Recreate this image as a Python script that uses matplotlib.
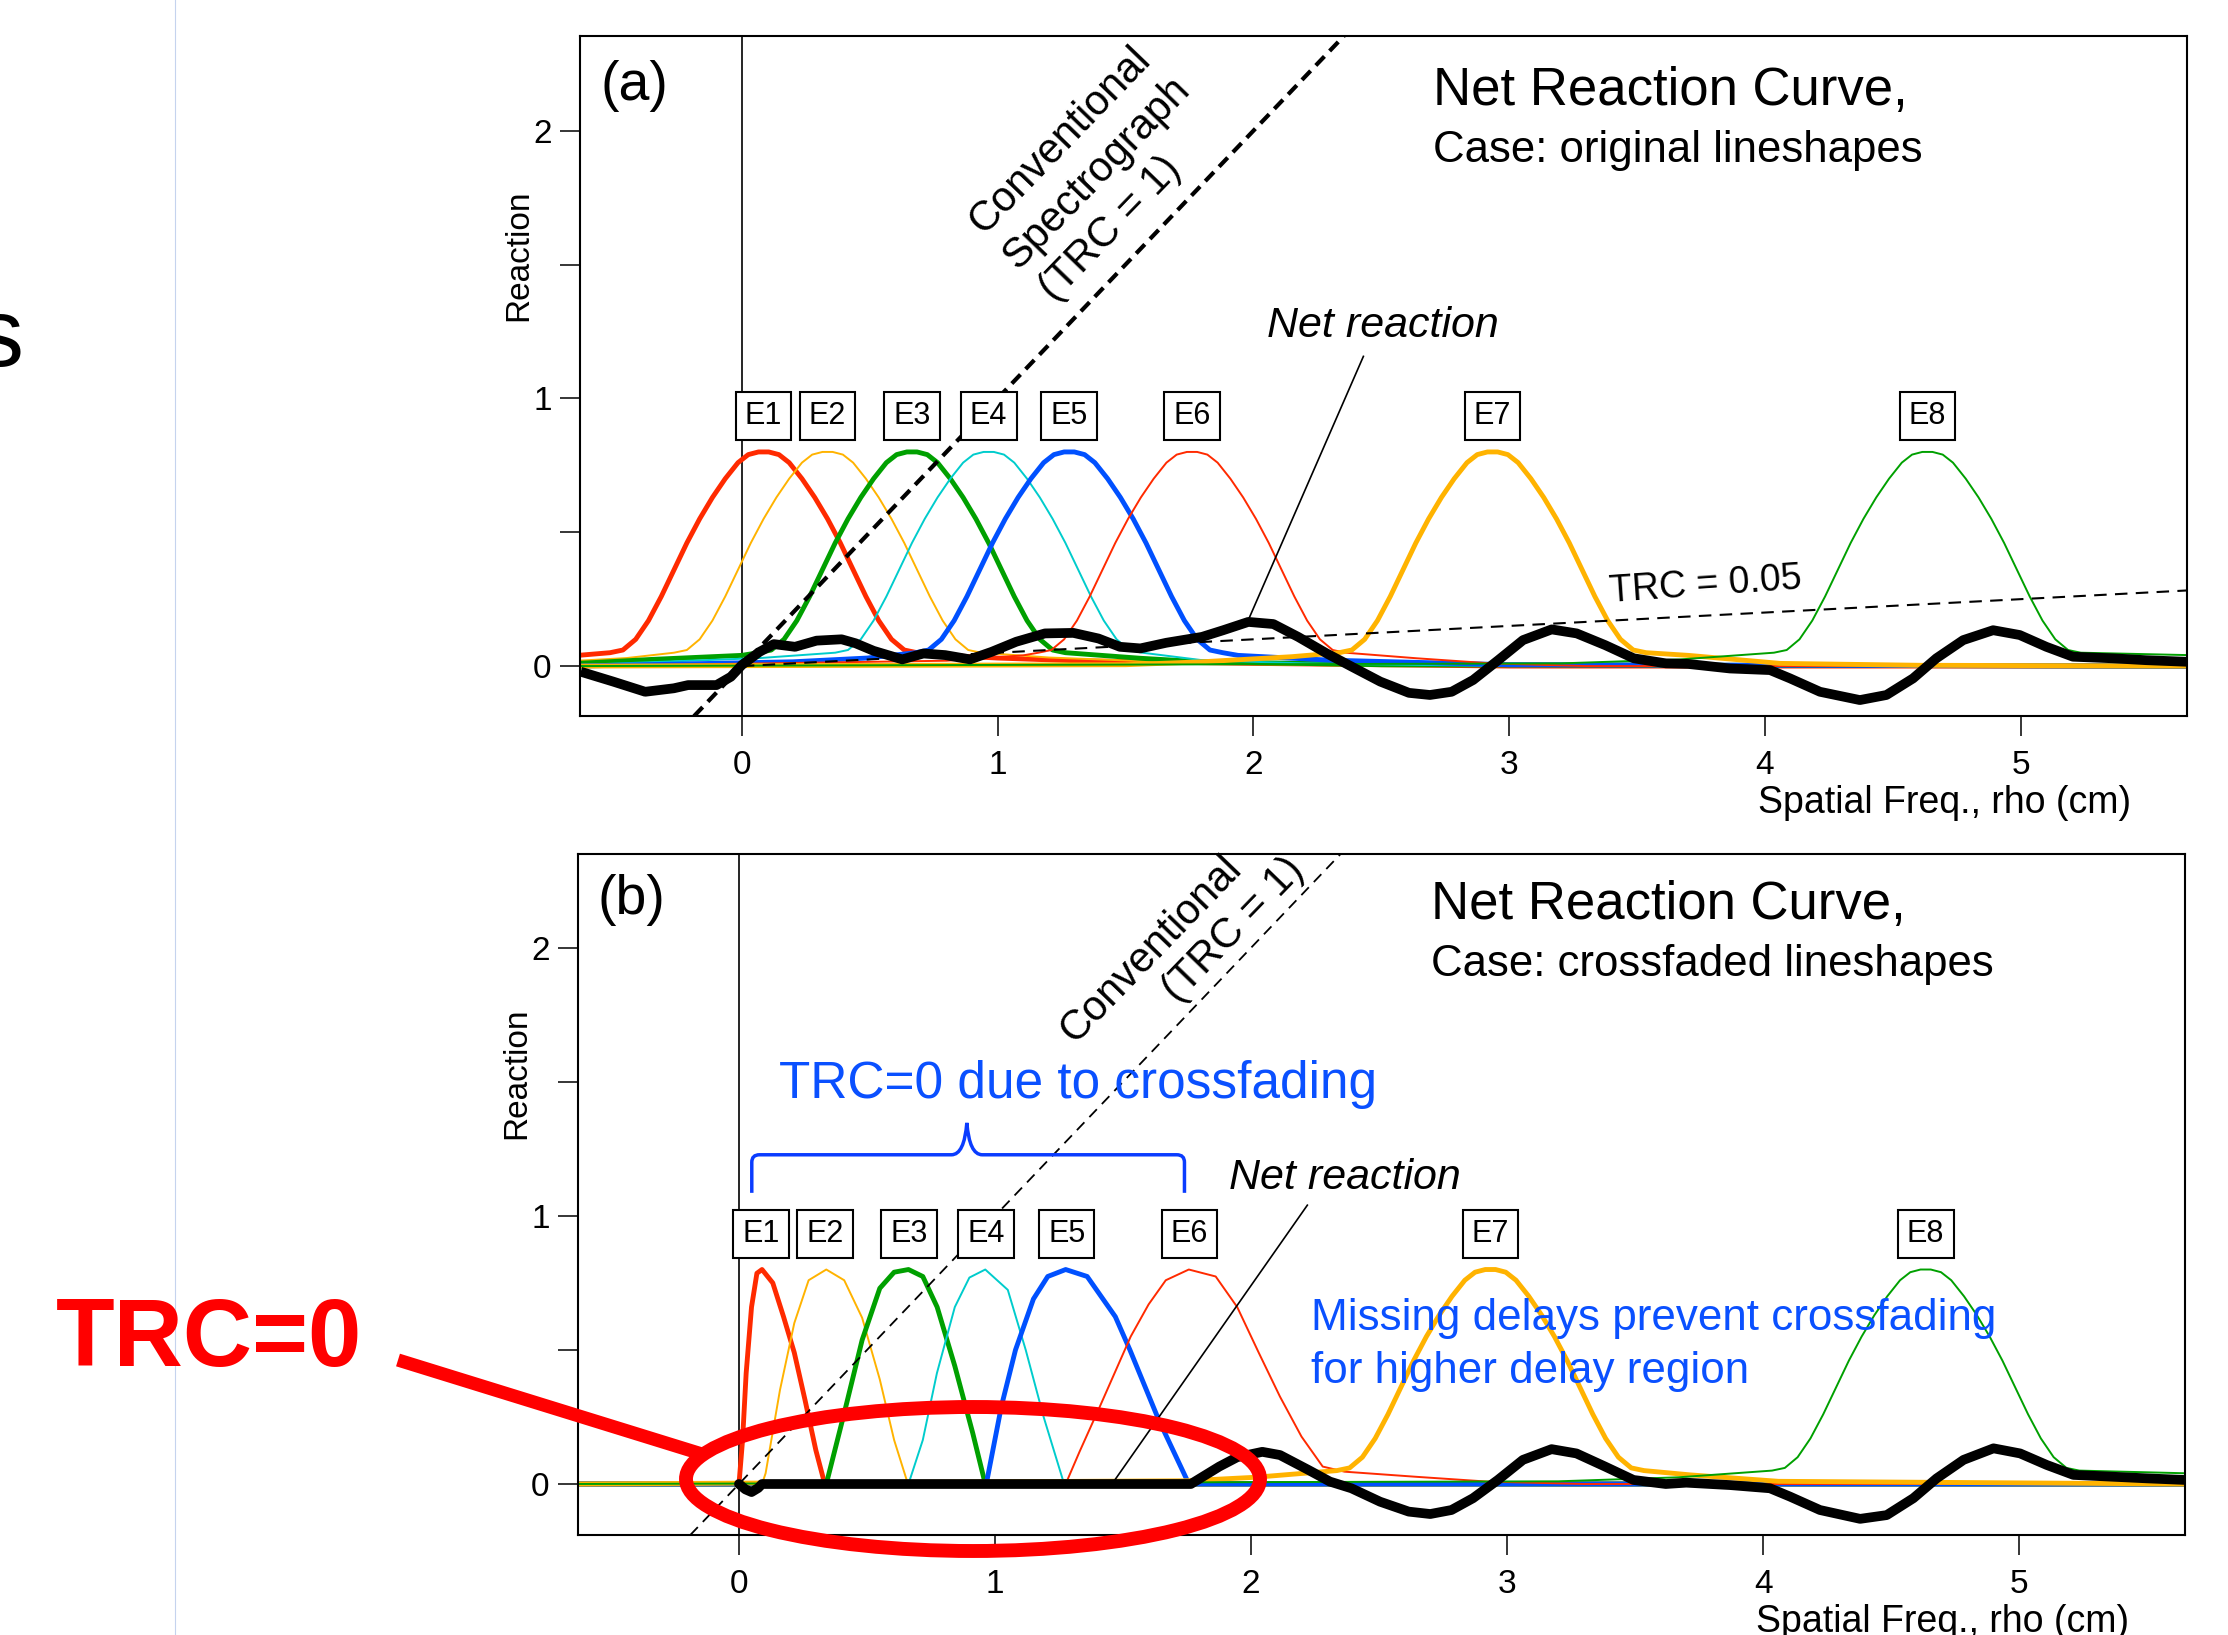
import matplotlib
matplotlib.use("Agg")
import matplotlib.pyplot as plt
from matplotlib.patches import Ellipse, PathPatch
from matplotlib.path import Path

plt.rcParams['font.family'] = ['Liberation Sans', 'DejaVu Sans']

# ---- data ----
labels = ['E1', 'E2', 'E3', 'E4', 'E5', 'E6', 'E7', 'E8']
peak_rho = [0.085, 0.335, 0.665, 0.965, 1.28, 1.76, 2.935, 4.635]
colors = ['#ff2a00', '#ffb300', '#00a000', '#00cccc', '#0050ff',
          '#ff2a00', '#ffb300', '#00a000']
widths = [3.5, 1.4, 3.5, 1.4, 3.5, 1.4, 3.5, 1.4]

# shared lineshape of the original components (offset from peak, reaction)
bump_dx = [-0.60, -0.55, -0.50, -0.45, -0.40, -0.35, -0.30, -0.25, -0.20, -0.15,
           -0.10, -0.06, -0.02, 0.02, 0.06, 0.10, 0.15, 0.20, 0.25, 0.30,
           0.35, 0.40, 0.45, 0.50, 0.55, 0.60]
bump_y = [0.05, 0.06, 0.10, 0.17, 0.26, 0.36, 0.46, 0.55, 0.63, 0.70,
          0.76, 0.79, 0.80, 0.80, 0.79, 0.76, 0.70, 0.63, 0.55, 0.46,
          0.36, 0.26, 0.17, 0.10, 0.06, 0.05]

# small tails left / right of each lineshape, panel (a)
tails_left_a = [
    [(-0.64, 0.04)],
    [(-0.64, 0.02), (-0.45, 0.03)],
    [(-0.64, 0.01), (-0.35, 0.025), (0.0, 0.04)],
    [(-0.64, 0.004), (0.07, 0.03)],
    [(-0.64, 0.0), (0.2, 0.016), (0.49, 0.03)],
    [(-0.64, 0.0), (0.8, 0.02), (1.1, 0.04)],
    [(-0.64, 0.0), (1.5, 0.005), (1.8, 0.016), (2.15, 0.035)],
    [(-0.64, 0.0), (3.2, 0.01), (3.67, 0.025)],
]
tails_right_a = [
    [(0.8, 0.04), (1.0, 0.03), (1.3, 0.02), (2.0, 0.01), (3.0, 0.0), (5.7, 0.0)],
    [(1.2, 0.032), (1.8, 0.01), (2.5, 0.0), (5.7, 0.0)],
    [(1.56, 0.029), (1.8, 0.016), (2.5, 0.005), (5.7, 0.0)],
    [(1.8, 0.022), (2.2, 0.01), (3.0, 0.0), (5.7, 0.0)],
    [(1.94, 0.04), (2.3, 0.022), (3.0, 0.005), (5.7, 0.0)],
    [(2.64, 0.029), (2.93, 0.01), (3.3, 0.0), (5.7, 0.0)],
    [(3.7, 0.04), (4.06, 0.01), (4.6, 0.003), (5.7, 0.0)],
    [(5.7, 0.04)],
]

net_a_x = [-0.63, -0.503, -0.378, -0.266, -0.21, -0.099, -0.043, 0.0, 0.069, 0.125,
           0.208, 0.292, 0.39, 0.445, 0.515, 0.627, 0.71, 0.795, 0.892, 0.976,
           1.073, 1.185, 1.296, 1.394, 1.478, 1.558, 1.659, 1.799, 1.882, 1.98,
           2.078, 2.175, 2.287, 2.384, 2.496, 2.608, 2.69, 2.775, 2.859, 2.957,
           3.054, 3.166, 3.264, 3.376, 3.487, 3.613, 3.70, 3.863, 4.02, 4.098,
           4.215, 4.371, 4.475, 4.579, 4.67, 4.775, 4.892, 4.996, 5.1, 5.204,
           5.36, 5.49, 5.65]
net_a_y = [-0.021, -0.058, -0.096, -0.083, -0.071, -0.071, -0.04, 0.004, 0.053, 0.082,
           0.072, 0.095, 0.10, 0.085, 0.057, 0.025, 0.047, 0.041, 0.025, 0.053,
           0.091, 0.122, 0.124, 0.103, 0.072, 0.066, 0.087, 0.109, 0.134, 0.165,
           0.157, 0.109, 0.047, -0.002, -0.058, -0.10, -0.108, -0.096, -0.052, 0.022,
           0.097, 0.137, 0.122, 0.078, 0.029, 0.01, 0.008, -0.009, -0.015, -0.046,
           -0.096, -0.127, -0.108, -0.046, 0.029, 0.097, 0.134, 0.116, 0.072, 0.035,
           0.029, 0.022, 0.016]

# panel (b): crossfaded lineshapes E1..E6 read point by point
e1_b = [(-0.63, 0.0), (0.0, 0.0), (0.014, 0.164), (0.028, 0.413), (0.049, 0.66),
        (0.07, 0.786), (0.09, 0.80), (0.132, 0.75), (0.174, 0.624), (0.216, 0.49),
        (0.258, 0.313), (0.30, 0.127), (0.335, 0.0), (5.65, 0.0)]
e2_b = [(-0.63, 0.0), (0.09, 0.0), (0.104, 0.04), (0.16, 0.35), (0.216, 0.60),
        (0.272, 0.76), (0.341, 0.80), (0.411, 0.76), (0.481, 0.62), (0.55, 0.39),
        (0.606, 0.164), (0.655, 0.015), (0.662, 0.0), (5.65, 0.0)]
e3_b = [(-0.63, 0.0), (0.341, 0.0), (0.411, 0.264), (0.481, 0.537), (0.55, 0.73),
        (0.606, 0.79), (0.662, 0.80), (0.718, 0.774), (0.774, 0.66), (0.843, 0.44),
        (0.913, 0.19), (0.962, 0.0), (5.65, 0.0)]
e4_b = [(-0.63, 0.0), (0.662, 0.0), (0.718, 0.164), (0.773, 0.413), (0.843, 0.66),
        (0.90, 0.77), (0.962, 0.80), (1.05, 0.724), (1.12, 0.50), (1.19, 0.25),
        (1.27, 0.0), (5.65, 0.0)]
e5_b = [(-0.63, 0.0), (0.962, 0.0), (0.969, 0.015), (1.025, 0.29), (1.08, 0.50),
        (1.15, 0.69), (1.206, 0.774), (1.276, 0.80), (1.36, 0.774), (1.47, 0.624),
        (1.527, 0.50), (1.639, 0.24), (1.75, 0.015), (1.76, 0.0), (5.65, 0.0)]
e6_b = [(-0.63, 0.0), (1.276, 0.0), (1.33, 0.12), (1.41, 0.29), (1.47, 0.42),
        (1.53, 0.55), (1.60, 0.67), (1.667, 0.76), (1.757, 0.80), (1.862, 0.774),
        (1.946, 0.66), (2.03, 0.49), (2.113, 0.326), (2.197, 0.177), (2.28, 0.065),
        (2.365, 0.046), (2.643, 0.027), (2.923, 0.009), (3.3, 0.0), (5.65, 0.0)]
e7_b_left = [(-0.63, 0.0), (1.75, 0.012), (2.015, 0.025)]
e7_b_right = [(3.715, 0.034), (4.06, 0.01), (5.65, 0.0)]
e8_b_left = [(-0.63, 0.0), (3.2, 0.01), (3.67, 0.025)]
e8_b_right = [(5.65, 0.04)]

net_b_x = [0.0, 0.025, 0.049, 0.075, 0.09, 1.765, 1.876, 1.946, 2.044, 2.113,
           2.225, 2.308, 2.392, 2.504, 2.616, 2.70, 2.783, 2.867, 2.964, 3.062,
           3.174, 3.271, 3.383, 3.494, 3.62, 3.70, 3.871, 4.027, 4.105, 4.222,
           4.379, 4.483, 4.587, 4.678, 4.783, 4.90, 5.004, 5.108, 5.212, 5.369,
           5.50, 5.65]
net_b_y = [0.0, -0.02, -0.03, -0.015, 0.0, 0.0, 0.065, 0.10, 0.12, 0.108,
           0.052, 0.009, -0.016, -0.066, -0.103, -0.112, -0.097, -0.053, 0.015, 0.09,
           0.13, 0.114, 0.065, 0.015, 0.0, 0.005, -0.004, -0.016, -0.047, -0.097,
           -0.13, -0.116, -0.053, 0.021, 0.09, 0.133, 0.114, 0.071, 0.034, 0.027,
           0.021, 0.015]

trc_conventional = 1.0
trc_a = 0.05
x_ticks = [0, 1, 2, 3, 4, 5]
y_ticks = [0, 0.5, 1, 1.5, 2]
y_ticklabels = ['0', '', '1', '', '2']


def bump(c, left, right):
    xs = [p[0] for p in left] + [c + d for d in bump_dx] + [p[0] for p in right]
    ys = [p[1] for p in left] + list(bump_y) + [p[1] for p in right]
    return xs, ys


def unzip(pts):
    return [p[0] for p in pts], [p[1] for p in pts]


fig = plt.figure(figsize=(22.28, 16.35), dpi=100)
ax_a = fig.add_axes([0.2603, 0.562, 0.7213, 0.416])
ax_b = fig.add_axes([0.2594, 0.0612, 0.7213, 0.4165])


def style_axes(ax, xlim, ylim):
    ax.set_xlim(*xlim)
    ax.set_ylim(*ylim)
    ax.set_xticks(x_ticks)
    ax.set_yticks(y_ticks)
    ax.set_yticklabels(y_ticklabels)
    for s in ax.spines.values():
        s.set_linewidth(1.5)
    ax.tick_params(axis='both', direction='out', length=14.4, width=1.1,
                   labelsize=24)
    ax.tick_params(axis='x', pad=10)
    ax.tick_params(axis='y', pad=6)
    ax.axvline(0, color='black', lw=1.2, zorder=1)
    ax.text(-0.038, 0.678, 'Reaction', transform=ax.transAxes, rotation=90,
            ha='center', va='center', fontsize=24)
    ax.text(0.965, -0.128, 'Spatial Freq., rho (cm)', transform=ax.transAxes,
            ha='right', va='center', fontsize=27, clip_on=False)


def e_labels(ax, y):
    for i in range(8):
        ax.text(peak_rho[i], y, labels[i], ha='center', va='center', fontsize=22,
                zorder=6, bbox=dict(boxstyle='square,pad=0.3', fc='white',
                                    ec='black', lw=1.5))


# ---------- panel (a) ----------
style_axes(ax_a, (-0.633, 5.65), (-0.187, 2.354))
for i in range(8):
    xs, ys = bump(peak_rho[i], tails_left_a[i], tails_right_a[i])
    ax_a.plot(xs, ys, color=colors[i], lw=widths[i], zorder=2)
ax_a.plot(net_a_x, net_a_y, color='black', lw=7, zorder=4,
          solid_joinstyle='round', solid_capstyle='butt')
ax_a.axline((0, 0), slope=trc_conventional, color='black', lw=3,
            dashes=(3, 1.8), zorder=3)
ax_a.plot([0, 5.65], [0, trc_a * 5.65], color='black', lw=1.5,
          dashes=(6, 4), zorder=3)
e_labels(ax_a, 0.935)
ax_a.text(0.013, 0.965, '(a)', transform=ax_a.transAxes, ha='left', va='top',
          fontsize=40)
ax_a.text(0.531, 0.8985, 'Net Reaction Curve,', transform=ax_a.transAxes,
          ha='left', va='baseline', fontsize=38)
ax_a.text(0.531, 0.815, 'Case: original lineshapes', transform=ax_a.transAxes,
          ha='left', va='baseline', fontsize=31.5)
ax_a.text(0.4275, 0.557, 'Net reaction', transform=ax_a.transAxes, ha='left',
          va='baseline', fontsize=31, style='italic')
ax_a.plot([2.43, 1.98], [1.157, 0.172], color='black', lw=1.2, zorder=5)
for txt, (tx, ty) in zip(['Conventional', 'Spectrograph', '(TRC = 1)'],
                         [(1.246, 1.966), (1.387, 1.84), (1.441, 1.634)]):
    ax_a.text(tx, ty, txt, rotation=46, rotation_mode='anchor', ha='center',
              va='center', fontsize=30, zorder=5)
ax_a.text(3.395, 0.239, 'TRC = 0.05', rotation=4, rotation_mode='anchor',
          ha='left', va='baseline', fontsize=27, zorder=5)

# ---------- panel (b) ----------
style_axes(ax_b, (-0.629, 5.648), (-0.19, 2.35))
b_curves = [e1_b, e2_b, e3_b, e4_b, e5_b, e6_b]
for i, pts in enumerate(b_curves):
    xs, ys = unzip(pts)
    ax_b.plot(xs, ys, color=colors[i], lw=widths[i], zorder=2)
xs, ys = bump(peak_rho[6], e7_b_left, e7_b_right)
ax_b.plot(xs, ys, color=colors[6], lw=widths[6], zorder=2)
xs, ys = bump(peak_rho[7], e8_b_left, e8_b_right)
ax_b.plot(xs, ys, color=colors[7], lw=widths[7], zorder=2)
ax_b.plot(net_b_x, net_b_y, color='black', lw=7, zorder=4,
          solid_joinstyle='round', solid_capstyle='round')
ax_b.axline((0, 0), slope=trc_conventional, color='black', lw=1.3,
            dashes=(6, 4), zorder=3)
e_labels(ax_b, 0.933)
ax_b.text(0.0124, 0.97, '(b)', transform=ax_b.transAxes, ha='left', va='top',
          fontsize=40)
ax_b.text(0.531, 0.9045, 'Net Reaction Curve,', transform=ax_b.transAxes,
          ha='left', va='baseline', fontsize=38)
ax_b.text(0.531, 0.821, 'Case: crossfaded lineshapes', transform=ax_b.transAxes,
          ha='left', va='baseline', fontsize=31.5)
ax_b.text(0.405, 0.508, 'Net reaction', transform=ax_b.transAxes, ha='left',
          va='baseline', fontsize=31, style='italic')
ax_b.plot([2.22, 1.457], [1.04, 0.0], color='black', lw=1.2, zorder=3)
for txt, (tx, ty) in zip(['Conventional', '(TRC = 1)'],
                         [(1.61, 1.996), (1.93, 2.067)]):
    ax_b.text(tx, ty, txt, rotation=46, rotation_mode='anchor', ha='center',
              va='center', fontsize=30, zorder=5)
blue = '#0a50ff'
ax_b.text(0.125, 0.642, 'TRC=0 due to crossfading', transform=ax_b.transAxes,
          ha='left', va='baseline', fontsize=37, color=blue)
ax_b.text(0.456, 0.301, 'Missing delays prevent crossfading',
          transform=ax_b.transAxes, ha='left', va='baseline', fontsize=31.7,
          color=blue, zorder=5)
ax_b.text(0.456, 0.2232, 'for higher delay region', transform=ax_b.transAxes,
          ha='left', va='baseline', fontsize=31.7, color=blue, zorder=5)

# curly bracket over E1..E6
brace = Path(
    [(0.05, 1.086), (0.05, 1.20), (0.05, 1.228), (0.08, 1.228),
     (0.83, 1.228), (0.88, 1.228), (0.89, 1.347), (0.90, 1.228), (0.95, 1.228),
     (1.71, 1.228), (1.74, 1.228), (1.74, 1.20), (1.74, 1.086)],
    [Path.MOVETO, Path.LINETO, Path.CURVE3, Path.CURVE3,
     Path.LINETO, Path.CURVE3, Path.CURVE3, Path.CURVE3, Path.CURVE3,
     Path.LINETO, Path.CURVE3, Path.CURVE3, Path.LINETO])
ax_b.add_patch(PathPatch(brace, fc='none', ec='#0a3cff', lw=2.5, zorder=5))

# ---------- figure-level overlay (pixel coordinates) ----------
ov = fig.add_axes([0, 0, 1, 1], zorder=10)
ov.set_xlim(0, 2228)
ov.set_ylim(1635, 0)
ov.axis('off')
ov.patch.set_alpha(0)
ov.plot([174.5, 174.5], [0, 1635], color='#c5d3ee', lw=0.8)
ov.text(23, 366, 's', ha='right', va='baseline', fontsize=69, color='black')
ov.text(56, 1366, 'TRC=0', ha='left', va='baseline', fontsize=69,
        fontweight='bold', color='#ff0000')
ov.plot([398, 705], [1360, 1455], color='#ff0000', lw=9.5, solid_capstyle='butt')
ov.add_patch(Ellipse((973, 1479), 574, 144, fc='none', ec='#ff0000', lw=10))

fig.savefig('out.png', dpi=100)
